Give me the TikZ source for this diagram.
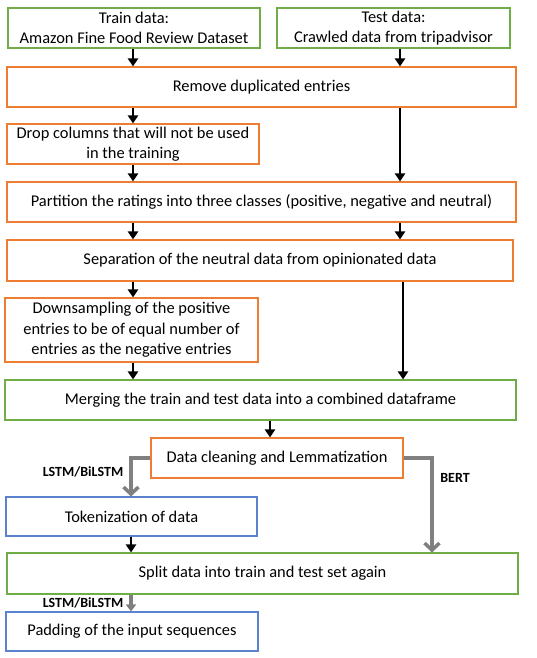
\documentclass[tikz,border=0pt]{standalone}
\usepackage{fontspec}
\setmainfont{Carlito}
\usetikzlibrary{arrows.meta,calc}
\definecolor{cgreen}{RGB}{112,173,71}
\definecolor{corange}{RGB}{237,125,49}
\definecolor{cblue}{RGB}{90,130,205}
\definecolor{cgray}{RGB}{128,128,128}
\tikzset{
  box/.style={draw, line width=1.1pt, rectangle, inner sep=2pt, align=center,
    font=\fontsize{16.4}{20.5}\selectfont, text=black},
  gbox/.style={box, draw=cgreen},
  obox/.style={box, draw=corange},
  bbox/.style={box, draw=cblue},
  arr/.style={line width=2.8pt, -{Triangle[width=10pt,length=8pt]}},
  garr/.style={line width=3.5pt, draw=cgray, -{Straight Barb[length=7pt,width=15pt]}},
  garrs/.style={line width=3.2pt, draw=cgray, -{Triangle[width=10pt,length=7pt]}},
  lbl/.style={font=\fontsize{14}{16}\bfseries\selectfont}
}
\begin{document}
\begin{tikzpicture}[x=1pt,y=-1pt]
\useasboundingbox (0,0) rectangle (536,658);
\fill[white] (0,0) rectangle (536,658);
\node[gbox, minimum width=252pt, minimum height=40pt] (train) at (134,28) {Train data:\\Amazon Fine Food Review Dataset};
\node[gbox, minimum width=233pt, minimum height=40pt] (test) at (393.5,28) {Test data:\\Crawled data from tripadvisor};
\node[obox, minimum width=509pt, minimum height=40pt] (remove) at (261.5,87) {Remove duplicated entries};
\node[obox, minimum width=252pt, minimum height=40pt] (drop) at (133,144) {Drop columns that will not be used\\in the training};
\node[obox, minimum width=509pt, minimum height=40pt] (part) at (261.5,202) {Partition the ratings into three classes (positive, negative and neutral)};
\node[obox, minimum width=506pt, minimum height=41pt] (sep) at (260,260.5) {Separation of the neutral data from opinionated data};
\node[obox, minimum width=253pt, minimum height=64pt] (down) at (131.5,330) {Downsampling of the positive\\entries to be of equal number of\\entries as the negative entries};
\node[gbox, minimum width=511pt, minimum height=40pt] (merge) at (260.5,400) {Merging the train and test data into a combined dataframe};
\node[obox, minimum width=252pt, minimum height=40pt] (clean) at (277,458) {Data cleaning and Lemmatization};
\node[bbox, minimum width=251pt, minimum height=39pt] (token) at (131.5,516.5) {Tokenization of data};
\node[gbox, minimum width=511pt, minimum height=41pt] (split) at (262.5,573.5) {Split data into train and test set again};
\node[bbox, minimum width=252pt, minimum height=39pt] (pad) at (132,631.5) {Padding of the input sequences};

\coordinate (L) at (133,0);
\coordinate (R) at (400,0);
\coordinate (R2) at (403,0);
\coordinate (M) at (270,0);
\coordinate (GL) at (131,0);
\coordinate (GR) at (432,0);

\draw[arr] (train.south -| L) -- (remove.north -| L);
\draw[arr] (test.south -| R) -- (remove.north -| R);
\draw[arr] (remove.south -| L) -- (drop.north -| L);
\draw[arr] (remove.south -| R) -- (part.north -| R);
\draw[arr] (drop.south -| L) -- (part.north -| L);
\draw[arr] (part.south -| L) -- (sep.north -| L);
\draw[arr] (part.south -| R) -- (sep.north -| R);
\draw[arr] (sep.south -| L) -- (down.north -| L);
\draw[arr] (sep.south -| R2) -- (merge.north -| R2);
\draw[arr] (down.south -| L) -- (merge.north -| L);
\draw[arr] (merge.south -| M) -- (clean.north -| M);
\draw[garr] (clean.west) -| (token.north -| GL);
\draw[garr] (clean.east) -| (split.north -| GR);
\draw[arr] (token.south -| GL) -- (split.north -| GL);
\draw[garrs] (split.south -| GL) -- (pad.north -| GL);

\node[lbl] (l1) at (83,472) {LSTM/BiLSTM};
\node[lbl] (l2) at (455,478) {BERT};
\node[lbl] (l3) at (83,603) {LSTM/BiLSTM};
\end{tikzpicture}
\end{document}
